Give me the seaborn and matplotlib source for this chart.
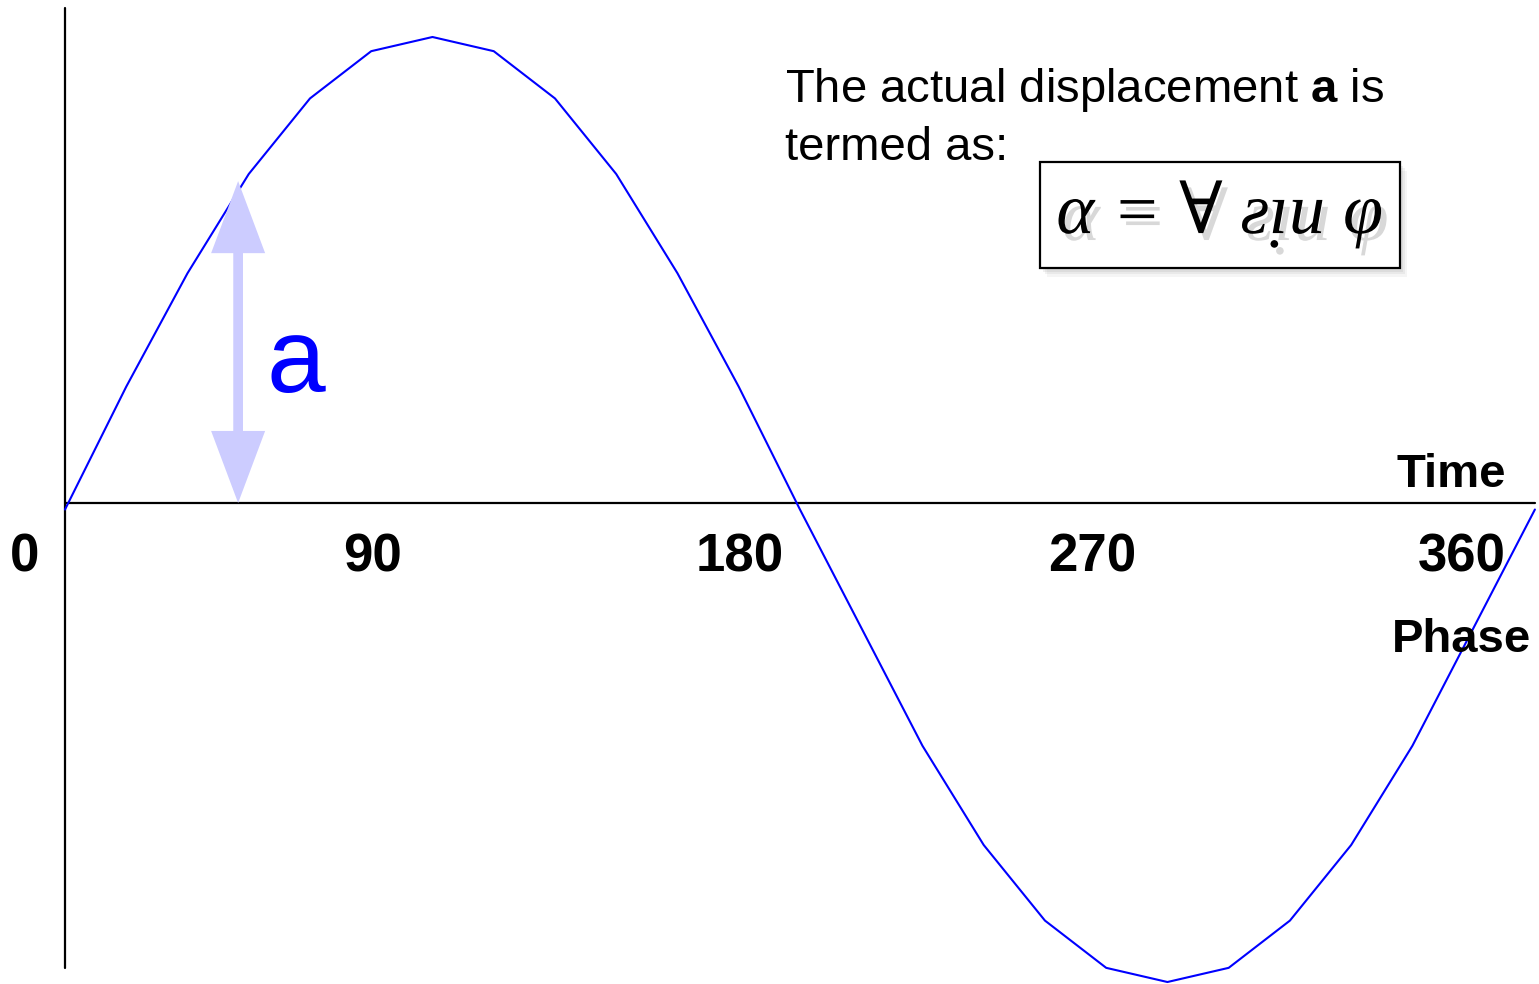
import matplotlib
matplotlib.use("Agg")
import matplotlib.pyplot as plt
import matplotlib.patheffects as pe
from matplotlib.patches import FancyArrowPatch, Rectangle
import seaborn as sns
import pandas as pd

# values (phase in degrees, displacement in amplitude units)
phase_deg = [0, 15, 30, 45, 60, 75, 90, 105, 120, 135, 150, 165, 180,
             195, 210, 225, 240, 255, 270, 285, 300, 315, 330, 345, 360]
displacement = [0.0, 0.26, 0.5, 0.71, 0.87, 0.97, 1.0, 0.97, 0.87, 0.71, 0.5, 0.26, 0.0,
                -0.25, -0.5, -0.71, -0.87, -0.97, -1.0, -0.97, -0.87, -0.71, -0.5, -0.25, 0.0]
phase_labels = ["0", "90", "180", "270", "360"]
label_x = [-9.8, 75.2, 165.3, 251.5, 342.2]

df = pd.DataFrame({"phase": phase_deg, "displacement": displacement})

sns.set_style("white")
plt.rcParams["font.family"] = ["Liberation Sans", "DejaVu Sans"]
plt.rcParams["text.color"] = "black"
plt.rcParams["mathtext.fontset"] = "custom"
plt.rcParams["mathtext.rm"] = "Liberation Sans"
plt.rcParams["mathtext.bf"] = "Liberation Sans:bold"

fig = plt.figure(figsize=(15.39, 9.84), dpi=100)
ax = fig.add_axes([0, 0, 1, 1])
ax.set_xlim(-15.92, 361.0)
ax.set_ylim(-1.0042, 1.0783)
ax.axis("off")

# axes lines
ax.axvline(0, ymin=(-0.970 + 1.0042) / 2.0825, ymax=(1.061 + 1.0042) / 2.0825, color="black", lw=1.6)
ax.axhline(0.0138, xmin=15.92 / 376.92, xmax=(360 + 15.92) / 376.92, color="black", lw=1.6)

# the wave
sns.lineplot(data=df, x="phase", y="displacement", ax=ax, color="#0000ff", linewidth=1.5)

# amplitude arrow
arr = FancyArrowPatch((42.4, 0.0138), (42.4, 0.695),
                      arrowstyle="<|-|>,head_length=2.4,head_width=0.9",
                      mutation_scale=16, color="#ccccff", lw=7,
                      joinstyle="miter", capstyle="butt",
                      shrinkA=0, shrinkB=0, zorder=3)
ax.add_patch(arr)
ax.text(56.6, 0.249, "a", color="#0000ff", fontsize=76, ha="center", va="baseline")

# tick labels and axis names
for lx, lab in zip(label_x, phase_labels):
    ax.text(lx, -0.132, lab, fontsize=38, fontweight="bold", ha="center", va="baseline")
ax.text(339.4, 0.0476, "Time", fontsize=34, fontweight="bold", ha="center", va="baseline")
ax.text(342.1, -0.3016, "Phase", fontsize=34, fontweight="bold", ha="center", va="baseline")

# description
ax.text(176.3, 0.862, r"The actual displacement $\mathbf{a}$ is", fontsize=34, ha="left", va="baseline")
ax.text(176.3, 0.740, "termed as:", fontsize=34, ha="left", va="baseline")

# formula box with a soft shadow
bx, by, bw, bh = 238.8, 0.511, 88.1, 0.2244
for off, a in [(3.0, 0.08), (2.2, 0.10), (1.4, 0.12)]:
    ax.add_patch(Rectangle((bx + off * 0.6, by - off * 0.006), bw, bh, facecolor="gray",
                           edgecolor="none", alpha=a, zorder=4))
ax.add_patch(Rectangle((bx, by), bw, bh, facecolor="white", edgecolor="black", lw=1.6, zorder=5))
ax.text(bx + bw / 2, 0.625, "α = ∀ ƨᴉu φ", fontsize=52, style="italic",
        family=["Liberation Serif", "DejaVu Serif", "DejaVu Sans"], ha="center", va="center", zorder=6,
        path_effects=[pe.SimplePatchShadow(offset=(4, -5), shadow_rgbFace="gray", alpha=0.3),
                      pe.Normal()])

fig.savefig("out.png", dpi=100)
